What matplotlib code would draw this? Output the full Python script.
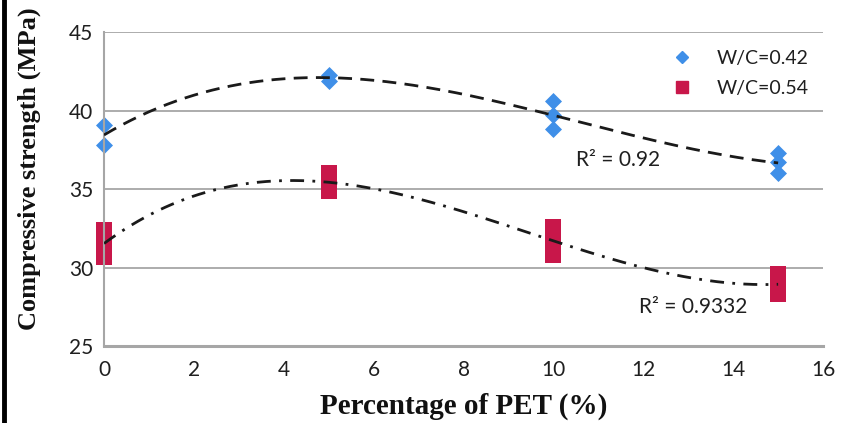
import numpy as np
import matplotlib
matplotlib.use("Agg")
import matplotlib.pyplot as plt
from matplotlib.lines import Line2D

# Data
x_042 = [0, 0, 5, 5, 10, 10, 10, 15, 15, 15]
y_042 = [39.1, 37.8, 42.3, 41.9, 40.6, 39.7, 38.8, 37.3, 36.7, 36.0]
x_054 = [0, 0, 0, 5, 5, 5, 10, 10, 10, 15, 15, 15]
y_054 = [32.4, 31.5, 30.7, 36.0, 35.4, 34.9, 32.6, 31.7, 30.8, 29.6, 28.9, 28.3]
labels = ["W/C=0.42", "W/C=0.54"]
r2_labels = ["R\u00b2 = 0.92", "R\u00b2 = 0.9332"]
xticks = list(range(0, 17, 2))
yticks = [25, 30, 35, 40, 45]

blue = "#3f8fe8"
red = "#c8174a"
txt = "#1f1f1f"

fig = plt.figure(figsize=(8.5, 4.23), dpi=100)
ax = fig.add_axes([0.1224, 0.182, 0.8459, 0.742])

ax.set_xlim(0, 16)
ax.set_ylim(25, 45)

for y in yticks[1:]:
    ax.axhline(y, color="#a6a6a6", lw=1.3, zorder=0)

# trendlines (3rd order polynomial fits)
xs = np.linspace(0, 15, 300)
c1 = np.polyfit(x_042, y_042, 3)
c2 = np.polyfit(x_054, y_054, 3)
ax.plot(xs, np.polyval(c1, xs), color="#1a1a1a", lw=2, linestyle=(0, (5, 3)), zorder=3)
ax.plot(xs, np.polyval(c2, xs), color="#1a1a1a", lw=2, linestyle=(0, (5, 3, 1, 3)), zorder=3)

ax.scatter(x_042, y_042, marker="D", s=75, color=blue, zorder=2, clip_on=False, linewidths=0)
ax.scatter(x_054, y_054, marker="s", s=140, color=red, zorder=2, clip_on=False, linewidths=0)

ax.text(10.5, 36.85, r2_labels[0], fontsize=15, family="Lato", va="center", ha="left", color=txt)
ax.text(11.9, 27.5, r2_labels[1], fontsize=15, family="Lato", va="center", ha="left", color=txt)

ax.set_xticks(xticks)
ax.set_yticks(yticks)
ax.tick_params(length=0, labelsize=15, colors=txt)
ax.tick_params(axis="x", pad=10)
ax.tick_params(axis="y", pad=8)
for lab in ax.get_xticklabels() + ax.get_yticklabels():
    lab.set_family("Lato")

for s in ["top", "right"]:
    ax.spines[s].set_visible(False)
ax.spines["left"].set_color("#a6a6a6")
ax.spines["left"].set_linewidth(1.5)
ax.spines["bottom"].set_color("#a6a6a6")
ax.spines["bottom"].set_linewidth(2.2)

ax.set_xlabel("Percentage of PET (%)", fontsize=21, family="Liberation Serif", fontweight="bold", labelpad=9, color="#111111")
ax.set_ylabel("Compressive strength (MPa)", fontsize=19, family="Liberation Serif", fontweight="bold", color="#111111")
ax.yaxis.set_label_coords(-0.087, 0.564)

handles = [Line2D([], [], marker="D", color=blue, linestyle="none", markersize=6),
           Line2D([], [], marker="s", color=red, linestyle="none", markersize=9)]
leg = ax.legend(handles, labels, loc="upper right", bbox_to_anchor=(1.005, 1.0), frameon=False,
                prop={"family": "Lato", "size": 14}, handletextpad=0.8, labelspacing=0.7)
for t in leg.get_texts():
    t.set_color(txt)

# left border line of the image
fig.add_artist(Line2D([0.005, 0.005], [0, 1], color="black", lw=3.5, transform=fig.transFigure))

fig.savefig("out.png", dpi=100)
